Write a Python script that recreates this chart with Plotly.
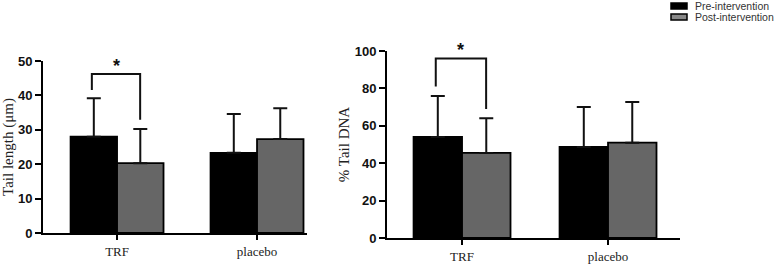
import plotly.graph_objects as go

categories = ["TRF", "placebo"]
series_names = ["Pre-intervention", "Post-intervention"]

tail_length_pre = [28.0, 23.3]
tail_length_post = [20.3, 27.3]
tail_length_pre_sd = [11.2, 11.3]
tail_length_post_sd = [9.9, 9.0]

tail_dna_pre = [54.0, 48.7]
tail_dna_post = [45.5, 51.0]
tail_dna_pre_sd = [22.0, 21.3]
tail_dna_post_sd = [18.5, 21.7]

# significance bracket (TRF): top, left leg end, right leg end
bracket_length = [46.2, 41.6, 32.9]
bracket_dna = [96.0, 81.0, 69.0]

colors = ["#000000", "#666666"]
W, H = 777, 265

fig = go.Figure()
x_idx = [0, 1]

panels = [
    ("x", "y", [tail_length_pre, tail_length_post], [tail_length_pre_sd, tail_length_post_sd]),
    ("x2", "y2", [tail_dna_pre, tail_dna_post], [tail_dna_pre_sd, tail_dna_post_sd]),
]
for xa, ya, vals, sds in panels:
    for i in range(2):
        fig.add_trace(go.Bar(
            x=x_idx, y=vals[i], name=series_names[i], xaxis=xa, yaxis=ya,
            offsetgroup=str(i), showlegend=False,
            marker=dict(color=colors[i], line=dict(color="#000000", width=1.8)),
            error_y=dict(type="data", array=sds[i], arrayminus=[0, 0], symmetric=False,
                         color="#111111", thickness=2, width=7),
        ))

title_font = dict(family="Times New Roman, Liberation Serif, serif", size=15, color="#222222")
cat_font = dict(family="Times New Roman, Liberation Serif, serif", size=13, color="#222222")

common_x = dict(tickmode="array", tickvals=x_idx, ticktext=categories, tickfont=cat_font,
                showline=True, linecolor="#000000", linewidth=2, ticks="outside",
                ticklen=5, tickwidth=2, tickcolor="#000000", showgrid=False, zeroline=False,
                automargin=False)
common_y = dict(showline=True, linecolor="#000000", linewidth=2, ticks="outside",
                ticklen=6, tickwidth=2, tickcolor="#000000", showgrid=False, zeroline=False,
                tickfont=dict(family="Arial", size=13, color="#111111", weight="bold"),
                title_font=title_font, automargin=False)

fig.update_layout(
    width=W, height=H, margin=dict(l=0, r=0, t=0, b=0, autoexpand=False),
    paper_bgcolor="white", plot_bgcolor="white",
    barmode="group", bargap=0.336, bargroupgap=0, showlegend=False,
    xaxis=dict(domain=[43 / W, 307 / W], range=[-0.529, 1.357], anchor="y", **common_x),
    yaxis=dict(domain=[(H - 233) / H, (H - 61) / H], range=[0, 50], dtick=10, anchor="x",
               title=dict(text="Tail length (μm)", standoff=4), **common_y),
    xaxis2=dict(domain=[387 / W, 680 / W], range=[-0.514, 1.493], anchor="y2", **common_x),
    yaxis2=dict(domain=[(H - 238) / H, (H - 51) / H], range=[0, 100], dtick=20, anchor="x2",
                title=dict(text="% Tail DNA", standoff=1), **common_y),
)

# significance brackets
for xa, ya, br in [("x", "y", bracket_length), ("x2", "y2", bracket_dna)]:
    xl, xr = -0.18, 0.165
    fig.add_shape(type="path", xref=xa, yref=ya,
                  path=f"M {xl} {br[1]} L {xl} {br[0]} L {xr} {br[0]} L {xr} {br[2]}",
                  line=dict(color="#111111", width=2))
    fig.add_annotation(x=(xl + xr) / 2, y=br[0], xref=xa, yref=ya, text="<b>*</b>",
                       showarrow=False, yanchor="bottom", yshift=-4,
                       font=dict(family="Arial", size=18, color="#111111"))

# manual legend (top right)
leg_rows = [(3, 9), (14, 20)]
for i, (y0, y1) in enumerate(leg_rows):
    fig.add_shape(type="rect", xref="paper", yref="paper",
                  x0=671 / W, x1=687 / W, y0=1 - y1 / H, y1=1 - y0 / H,
                  fillcolor=colors[i] if i == 0 else "#888888",
                  line=dict(color="#000000", width=1.5))
    fig.add_annotation(x=693 / W, y=1 - (y0 + y1) / 2 / H, xref="paper", yref="paper",
                       text=series_names[i], showarrow=False, xanchor="left", yanchor="middle",
                       font=dict(family="Arial", size=10.5, color="#333333"))

fig.write_html("out.html", config={"displayModeBar": False},
               post_script="document.body.style.margin='0px';document.body.style.overflow='hidden';")
